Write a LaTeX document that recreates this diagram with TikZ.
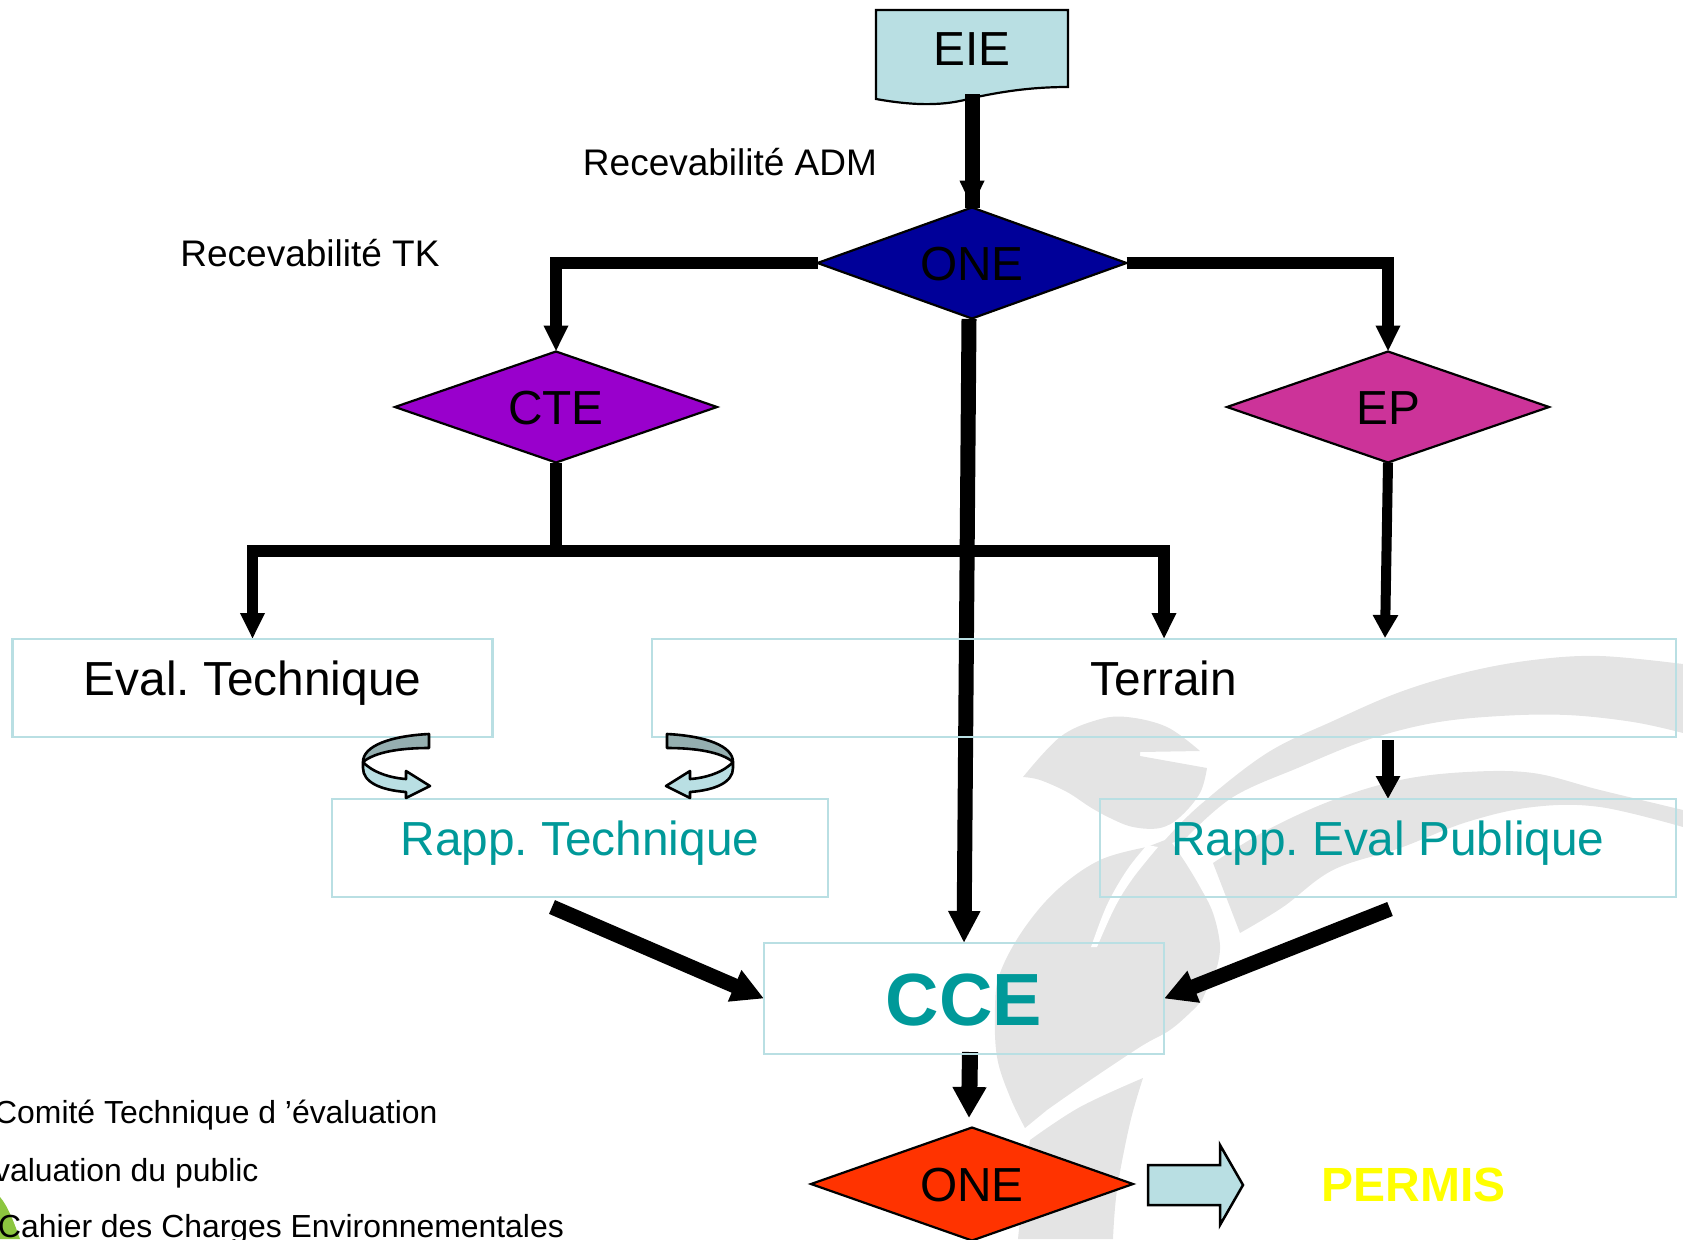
\documentclass[tikz,border=0pt]{standalone}
\usepackage{fontspec}
\setmainfont{Liberation Sans}
\usetikzlibrary{shapes.geometric,arrows.meta}
\pgfdeclarelayer{bg}
\pgfdeclarelayer{conn}
\pgfsetlayers{bg,conn,main}
\definecolor{lblue}{HTML}{B9DFE3}
\definecolor{tealtxt}{HTML}{009999}
\definecolor{wm}{HTML}{E4E4E4}
\definecolor{bandgrey}{HTML}{95AFB0}
\definecolor{leafgreen}{HTML}{8CC63F}
\tikzset{
  x=1pt,y=-1pt,
  deci/.style={shape=diamond,aspect=2.8,draw=black,line width=2.2pt,inner sep=0pt,outer sep=0pt,
     minimum width=#1,minimum height=111pt,text height=34pt,text depth=0pt,text=black,font=\fontsize{47.8pt}{50pt}\selectfont},
  lbox/.style={shape=rectangle,draw=lblue,line width=2.5pt,inner sep=0pt,outer sep=0pt,
     text height=30pt,text depth=15pt,font=\fontsize{47.8pt}{50pt}\selectfont},
  note/.style={inner sep=0pt,font=\fontsize{37pt}{40pt}\selectfont},
  legend/.style={inner sep=0pt,anchor=base west,font=\fontsize{31.9pt}{34pt}\selectfont},
  arrowa/.style={draw=black,line width=11.5pt,-{Triangle[length=26pt,width=23pt]}},
  arrowb/.style={draw=black,line width=15pt,-{Triangle[length=32pt,width=32pt]}},
  wmshape/.style={fill=wm,draw=none},
  swirl/.style={draw=black,line width=2.6pt,line join=round},
}
\begin{document}
\frenchspacing
\begin{tikzpicture}
\useasboundingbox (0,0) rectangle (1683,1239);
% nodes
\node[inner sep=0pt,outer sep=0pt,minimum width=192pt,minimum height=77pt,text height=34pt,text depth=0pt,font=\fontsize{47.8pt}{50pt}\selectfont] (eie) at (972,48.5) {EIE};
\node[deci=309pt,fill={rgb,255:red,0;green,0;blue,153}] (one) at (972,263) {ONE};
\node[deci=322pt,fill={rgb,255:red,153;green,0;blue,204}] (cte) at (556,407) {CTE};
\node[deci=322pt,fill={rgb,255:red,204;green,51;blue,153}] (ep) at (1388,407) {EP};
\node[lbox,minimum width=480pt,minimum height=98pt] (eval) at (252.5,688) {Eval. Technique};
\node[lbox,minimum width=1024pt,minimum height=98pt] (terrain) at (1164,688) {Terrain};
\node[lbox,minimum width=496pt,minimum height=98pt,text=tealtxt] (rtech) at (580,848) {Rapp. Technique};
\node[lbox,minimum width=576pt,minimum height=98pt,text=tealtxt] (rpub) at (1388,848) {Rapp. Eval Publique};
\node[shape=rectangle,draw=lblue,line width=2.5pt,inner sep=0pt,outer sep=0pt,minimum width=400pt,minimum height=111pt,text height=53pt,text depth=0pt,text=tealtxt,font=\fontsize{74pt}{77pt}\selectfont\bfseries] (cce) at (964,998.5) {CCE};
\node[deci=322pt,fill={rgb,255:red,255;green,51;blue,0},minimum height=113pt] (oner) at (972,1184) {ONE};
\node[inner sep=0pt,font=\fontsize{48pt}{50pt}\selectfont\bfseries,text={rgb,255:red,255;green,255;blue,0},anchor=base] (permis) at (1413.5,1201) {PERMIS};
\node[note,anchor=base] (radm) at (730,175) {Recevabilité ADM};
\node[note,anchor=base] (rtk) at (310,266) {Recevabilité TK};
\node[legend] (l1) at (-6,1123) {Comité Technique d ’évaluation};
\node[legend] (l2) at (-6,1181) {valuation du public};
\node[legend] (l3) at (-2,1237) {Cahier des Charges Environnementales};
% named free ends
\coordinate (j) at (556,551);
\coordinate (epin) at (1385,638);
\coordinate (oneout) at (969,319);
\coordinate (cceout) at (970,1052);
\coordinate (onein) at (969,1118);
\coordinate (rtout) at (552,907);
\coordinate (rpout) at (1390,909);
\begin{pgfonlayer}{bg}
  % watermark
  \fill[wmshape] plot[smooth,tension=.6] coordinates {(1023,777)(1060,737)(1097,720)(1127,717)(1167,727)(1200,751)}
     -- (1140,752) -- (1140,756)
     -- plot[smooth,tension=.6] coordinates {(1207,768)(1200,793)(1180,817)(1160,828)(1133,827)(1110,818)(1090,807)(1067,792)(1040,780)(1023,777)} -- cycle;
  \fill[wmshape] plot[smooth,tension=.6] coordinates {(1683,664)(1600,656)(1533,660)(1467,672)(1400,692)(1333,721)(1267,753)(1200,805)(1165,840)}
     -- plot[smooth,tension=.6] coordinates {(1147,847)(1100,860)(1057,890)(1023,930)(1000,973)(995,1007)(997,1057)(1010,1097)(1025,1128)}
     -- plot[smooth,tension=.6] coordinates {(1047,1110)(1080,1087)(1140,1047)(1170,1030)(1193,1010)(1202,1000)}
     -- plot[smooth,tension=.6] coordinates {(1217,967)(1220,945)(1213,913)(1200,887)(1185,862)(1172,843)}
     -- plot[smooth,tension=.6] coordinates {(1187,837)(1233,797)(1300,767)(1367,740)(1433,723)(1500,716)(1567,715)(1633,722)(1683,733)} -- cycle;
  \fill[white] plot[smooth,tension=.6] coordinates {(1147,845)(1127,870)(1107,905)(1091,947)}
     -- plot[smooth,tension=.6] coordinates {(1097,947)(1115,907)(1133,878)(1158,847)} -- cycle;
  \fill[wmshape] plot[smooth,tension=.6] coordinates {(1213,863)(1267,830)(1333,800)(1400,780)(1467,772)(1533,773)(1600,790)(1683,810)}
     -- plot[smooth,tension=.6] coordinates {(1683,827)(1600,807)(1533,807)(1467,822)(1400,848)(1333,870)(1283,907)(1240,933)} -- cycle;
  \fill[wmshape] plot[smooth,tension=.6] coordinates {(1143,1078)(1080,1107)(1030,1140)}
     -- plot[smooth,tension=.6] coordinates {(1024,1180)(1018,1239)}
     -- plot[smooth,tension=.6] coordinates {(1113,1239)(1117,1190)(1130,1123)(1143,1078)} -- cycle;
  \fill[leafgreen] (0,1197) .. controls (8,1206) and (15,1225) .. (20,1239) -- (0,1239) -- cycle;
  % document shape
  \draw[fill=lblue,draw=black,line width=2.2pt] (eie.north west) -- (eie.north east) -- (eie.south east)
     .. controls (1030,87) and (1000,92) .. (972,98)
     .. controls (945,106) and (915,106) .. (876,99) -- cycle;
\end{pgfonlayer}
\begin{pgfonlayer}{conn}
  \draw[line width=15pt,shorten <=7pt,preaction={draw,shorten <=7pt,-{Triangle[length=27pt,width=23pt]}}] (eie.south) -- (one.north);
  \draw[arrowa] (one.west) -| (cte.north);
  \draw[arrowa] (one.east) -| (ep.north);
  \draw[arrowa,-] (cte.south) -- (j);
  \draw[arrowa] (j) -| (eval.north);
  \draw[arrowa] (j) -| (terrain.north);
  \draw[arrowa,line width=10pt,-{Triangle[length=23pt,width=24pt]}] (ep.south) -- (epin);
  \draw[arrowa,line width=11.5pt,shorten <=3pt,-{Triangle[length=23pt,width=23pt]}] (terrain.south -| rpub.north) -- (rpub.north);
  \draw[arrowb,-{Triangle[length=32pt,width=30pt]}] (oneout) -- (cce.north);
  \draw[arrowb] (rtout) -- (cce.west);
  \draw[arrowb] (rpout) -- (cce.east);
  \draw[arrowb,line width=16pt,-{Triangle[length=31pt,width=32pt]}] (cceout) -- (onein);
\end{pgfonlayer}
% block arrow to PERMIS
\draw[fill=lblue,draw=black,line width=2.5pt,line join=miter] (1148,1165) -- (1220,1165) -- (1220,1145) -- (1243,1185) -- (1220,1225) -- (1220,1205) -- (1148,1205) -- cycle;
% swirl arrows
\draw[swirl,fill=bandgrey] (429,734) .. controls (390,736) and (363,746) .. (363,762) .. controls (375,752) and (400,748) .. (429,748) -- cycle;
\draw[swirl,fill=lblue] (363,762) .. controls (372,772) and (390,778) .. (406,779) -- (406,771) -- (430,786) -- (406,798) -- (406,792) .. controls (380,790) and (363,782) .. (363,768) -- cycle;
\draw[swirl,fill=bandgrey] (667,734) .. controls (706,736) and (733,746) .. (733,762) .. controls (721,752) and (696,748) .. (667,748) -- cycle;
\draw[swirl,fill=lblue] (733,762) .. controls (724,772) and (706,778) .. (690,779) -- (690,771) -- (666,786) -- (690,798) -- (690,792) .. controls (716,790) and (733,782) .. (733,768) -- cycle;
\end{tikzpicture}
\end{document}
